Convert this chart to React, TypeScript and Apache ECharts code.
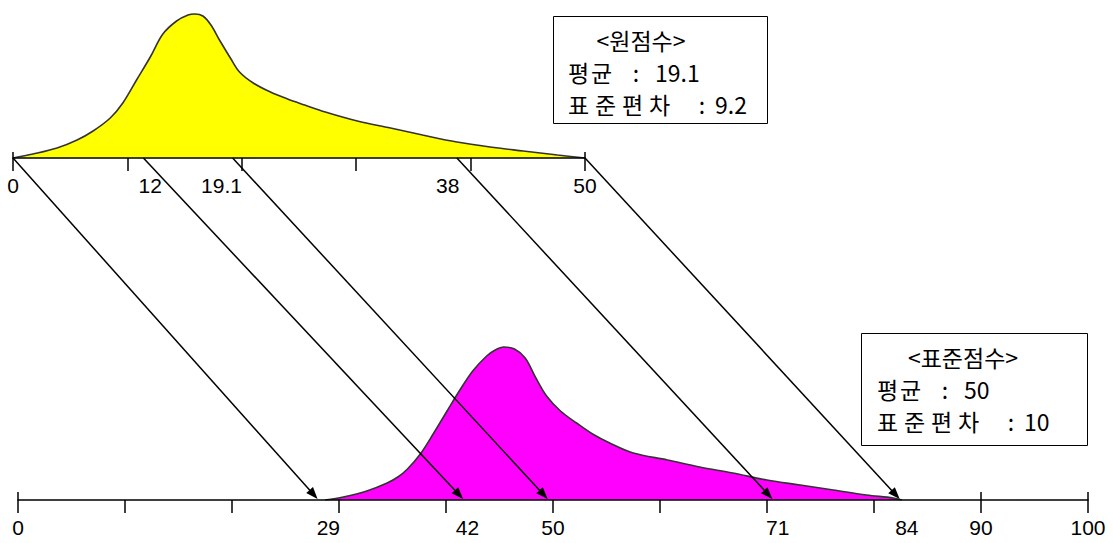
import React, { useEffect, useRef } from "react";
import * as echarts from "echarts";

// Raw score distribution (원점수), x = score, y = relative frequency (arbitrary units)
const rawX = [0, 1.75, 3.85, 5.6, 7.0, 8.5, 9.6, 10.8, 12.0, 13.1, 14.3, 15.3, 15.9, 16.6, 17.3, 18.1, 19.0, 19.8, 21.0, 22.5, 24.0, 25.5, 27.3, 30.1, 33.0, 35.8, 38.8, 41.7, 44.6, 47.6, 50];
const rawY = [0, 4, 10, 18, 27, 40, 55, 78, 101, 124, 137, 143, 144, 142, 133, 117, 100, 86, 75, 66, 59, 53, 46, 37, 30, 23, 16, 11, 7, 3, 0];

// Standard score distribution (표준점수)
const stdX = [28.7, 30.4, 32.6, 34.5, 35.5, 36.4, 37.6, 38.8, 40.1, 41.3, 42.5, 43.8, 44.6, 45.4, 46.4, 47.4, 48.4, 49.4, 50.7, 52.2, 53.7, 55.3, 57.5, 60.7, 63.7, 66.8, 70.0, 73.1, 76.2, 79.3, 81.8, 82.6];
const stdY = [0, 3, 9, 17, 23, 31, 46, 66, 89, 110, 129, 144, 150, 153, 151, 142, 122, 104, 89, 77, 66, 57, 47, 40, 33, 27, 20, 15, 10, 5, 2, 0];

// Axis ticks and labels
const rawTicks = [0, 10, 20, 30, 40, 50];
const rawLabels = [0, 12, 19.1, 38, 50];
const rawCrossTicks = [0, 50];
const stdTicks = [0, 10, 20, 30, 40, 50, 60, 70, 80, 90, 100];
const stdLabels = [0, 29, 42, 50, 71, 84, 90, 100];
const stdCrossTicks = [0, 90, 100];

// Arrows: raw score position -> standard score position (as drawn)
const arrowFrom = [0, 11.4, 19.2, 38.8, 50];
const arrowTo = [28, 41.6, 49.5, 70.5, 82.4];

// Info boxes
const rawBoxTitle = "<원점수>";
const rawBoxRows = [
  ["평균", "19.1"],
  ["표준편차", "9.2"],
];
const stdBoxTitle = "<표준점수>";
const stdBoxRows = [
  ["평균", "50"],
  ["표준편차", "10"],
];

const LABEL_FONT = "'Liberation Sans', Arial, sans-serif";
const BOX_FONT = "'Noto Sans CJK KR', 'Noto Sans', sans-serif";
// labels that sit slightly left of their value in the original drawing (padding in px)
const LEFT_NUDGE: Record<string, number> = { "19.1": 20, "84": 22 };

function axisCommon(ticks: number[], labels: number[], min: number, max: number, gridIndex: number, margin: number) {
  const base = { fontSize: 21, fontFamily: LABEL_FONT, color: "#000" };
  return {
    type: "value",
    gridIndex,
    min,
    max,
    z: 10,
    splitLine: { show: false },
    axisLine: { show: true, lineStyle: { color: "#000", width: 1.5 } },
    axisTick: {
      show: true,
      length: 13,
      customValues: ticks,
      lineStyle: { color: "#000", width: 1.5 },
    },
    axisLabel: {
      show: true,
      customValues: labels,
      margin,
      ...base,
      formatter: (v: number) => {
        const s = String(v);
        return LEFT_NUDGE[s] ? `{n|${s}}` : s;
      },
      rich: {
        n: { ...base, padding: [0, 20, 0, 0] },
      },
    },
  };
}

export default function App() {
  const ref = useRef<HTMLDivElement>(null);

  useEffect(() => {
    if (!ref.current) return;
    const chart = echarts.init(ref.current, null, { renderer: "svg" });
    const option: any = {
      animation: false,
      backgroundColor: "#ffffff",
      grid: [
        { left: 13, right: 528, top: 0, bottom: 385 },
        { left: 18, right: 25, top: 300, bottom: 43 },
      ],
      xAxis: [
        axisCommon(rawTicks, rawLabels, 0, 50, 0, 17),
        axisCommon(stdTicks, stdLabels, 0, 100, 1, 17),
      ],
      yAxis: [
        { type: "value", gridIndex: 0, min: 0, max: 158, show: false },
        { type: "value", gridIndex: 1, min: 0, max: 200, show: false },
      ],
      series: [
        {
          type: "line",
          xAxisIndex: 0,
          yAxisIndex: 0,
          data: rawX.map((x, i) => [x, rawY[i]]),
          smooth: 0.35,
          symbol: "none",
          lineStyle: { color: "#333", width: 1.6 },
          areaStyle: { color: "#ffff00", opacity: 1 },
        },
        {
          type: "line",
          xAxisIndex: 1,
          yAxisIndex: 1,
          data: stdX.map((x, i) => [x, stdY[i]]),
          smooth: 0.35,
          symbol: "none",
          lineStyle: { color: "#333", width: 1.6 },
          areaStyle: { color: "#ff00ff", opacity: 1 },
        },
      ],
    };
    chart.setOption(option);

    const graphics: any[] = [];
    // ticks that cross the axis line
    rawCrossTicks.forEach((v) => {
      const p = chart.convertToPixel({ gridIndex: 0 }, [v, 0]) as number[];
      graphics.push({ type: "line", z: 50, shape: { x1: p[0], y1: p[1] - 6, x2: p[0], y2: p[1] }, style: { stroke: "#000", lineWidth: 1.5 } });
    });
    stdCrossTicks.forEach((v) => {
      const p = chart.convertToPixel({ gridIndex: 1 }, [v, 0]) as number[];
      graphics.push({ type: "line", z: 50, shape: { x1: p[0], y1: p[1] - 8, x2: p[0], y2: p[1] }, style: { stroke: "#000", lineWidth: 1.5 } });
    });
    // arrows
    arrowFrom.forEach((f, i) => {
      const a = chart.convertToPixel({ gridIndex: 0 }, [f, 0]) as number[];
      const b = chart.convertToPixel({ gridIndex: 1 }, [arrowTo[i], 0]) as number[];
      const tip = [b[0], b[1] - 1];
      const dx = tip[0] - a[0];
      const dy = tip[1] - a[1];
      const len = Math.sqrt(dx * dx + dy * dy);
      const ux = dx / len;
      const uy = dy / len;
      const hl = 12;
      const hw = 4.5;
      const base = [tip[0] - ux * hl, tip[1] - uy * hl];
      graphics.push({
        type: "line",
        z: 50,
        shape: { x1: a[0], y1: a[1], x2: base[0] + ux * 2, y2: base[1] + uy * 2 },
        style: { stroke: "#000", lineWidth: 1.5 },
      });
      graphics.push({
        type: "polygon",
        z: 51,
        shape: {
          points: [
            tip,
            [base[0] - uy * hw, base[1] + ux * hw],
            [base[0] + uy * hw, base[1] - ux * hw],
          ],
        },
        style: { fill: "#000" },
      });
    });

    // info boxes
    const font = `23px ${BOX_FONT}`;
    const txt = (x: number, y: number, s: string, align = "left") => {
      graphics.push({
        type: "text",
        z: 61,
        x,
        y,
        style: { text: s, fill: "#000", font, align, verticalAlign: "middle" },
      });
    };
    const spaced = (x: number, y: number, s: string, pitch: number) => {
      Array.from(s).forEach((ch, k) => txt(x + k * pitch, y, ch));
    };
    const box = (
      x: number,
      y: number,
      w: number,
      h: number,
      title: string,
      titleCx: number,
      rows: string[][],
      tx: number
    ) => {
      graphics.push({
        type: "rect",
        z: 60,
        shape: { x: x + 0.5, y: y + 0.5, width: w, height: h },
        style: { fill: "#fff", stroke: "#000", lineWidth: 1 },
      });
      txt(titleCx, y + 24, title, "center");
      rows.forEach((r, k) => {
        const yy = y + 56 + k * 32;
        const pitch = r[0].length > 2 ? 27 : 23;
        spaced(tx, yy, r[0], pitch);
        const colonX = k === 0 ? tx + 68 : tx + 134;
        const valX = k === 0 ? tx + 87 : tx + 147;
        txt(colonX, yy, ":", "center");
        txt(valX, yy, r[1]);
      });
    };
    box(553, 16, 214, 107, rawBoxTitle, 641, rawBoxRows, 568);
    box(861, 333, 226, 112, stdBoxTitle, 963, stdBoxRows, 877);

    chart.setOption({ graphic: graphics });

    return () => chart.dispose();
  }, []);

  return <div ref={ref} style={{ position: "absolute", left: 0, top: 0, width: 1113, height: 543 }} />;
}
